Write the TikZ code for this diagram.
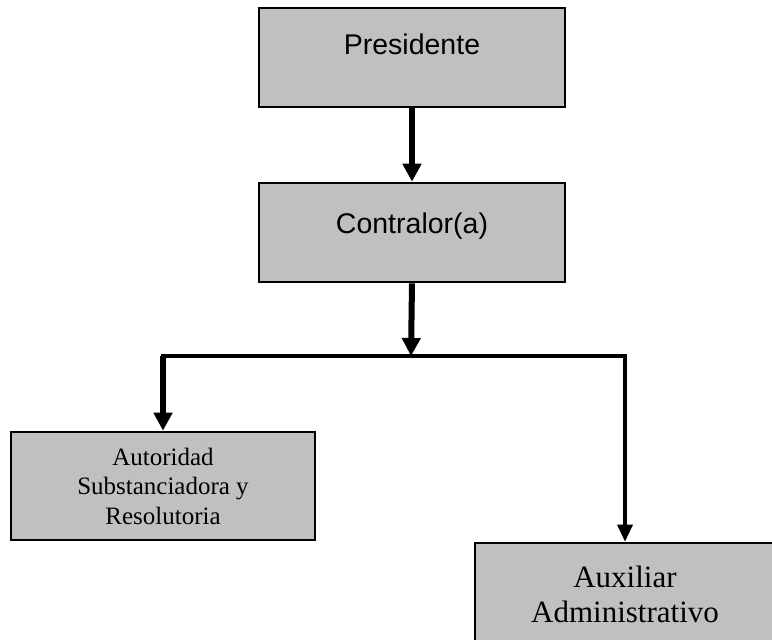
\documentclass[tikz,border=0pt]{standalone}
\usepackage{fontspec}
\setmainfont{Liberation Serif}
\newfontfamily\arialf{Liberation Sans}
\usetikzlibrary{arrows.meta}
\definecolor{boxgray}{HTML}{C0C0C0}
\tikzset{
  orgbox/.style={draw=black, line width=2.6pt, fill=boxgray, inner sep=0pt, align=center},
  toptext/.style={font=\arialf\fontsize{28.5}{34}\selectfont},
  lowtext/.style={font=\fontsize{25}{29.5}\selectfont},
  auxtext/.style={font=\fontsize{31}{35}\selectfont},
  thickarrow/.style={line width=6pt, -{Triangle[width=18pt,length=18pt]}},
  thinarrow/.style={line width=3.4pt, -{Triangle[width=15pt,length=17pt]}},
  branch/.style={line width=4pt}
}
\begin{document}
\begin{tikzpicture}[x=1pt,y=-1pt]
\useasboundingbox (0,0) rectangle (772,640);
\clip (0,0) rectangle (772,640);
\node[orgbox, minimum width=306pt, minimum height=99pt, toptext, text depth=26pt] (pres) at (412,57.5) {Presidente};
\node[orgbox, minimum width=306pt, minimum height=99pt, toptext, text depth=19pt] (cont) at (412,232.5) {Contralor(a)};
\node[orgbox, minimum width=304pt, minimum height=108pt, lowtext] (auto) at (163,486) {Autoridad\\Substanciadora y\\Resolutoria};
\node[orgbox, minimum width=300pt, minimum height=102pt, auxtext] (aux) at (625,594) {Auxiliar\\Administrativo};
\coordinate (j) at (411,356);
\draw[thickarrow] (pres.south) -- (cont.north);
\draw[thickarrow] (cont.south) -- (j);
\draw[branch, line cap=rect] (auto.north |- j) -- (aux.north |- j);
\draw[thickarrow] (auto.north |- j) -- (auto.north);
\draw[thinarrow] (aux.north |- j) -- (aux.north);
\end{tikzpicture}
\end{document}
